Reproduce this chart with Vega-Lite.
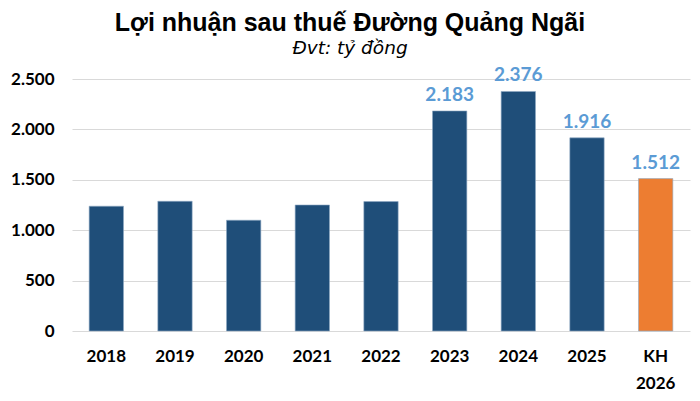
{
  "$schema": "https://vega.github.io/schema/vega-lite/v6.json",
  "width": 618,
  "height": 252,
  "autosize": {"type": "none"},
  "padding": {"left": 72, "top": 79, "right": 10, "bottom": 70},
  "background": "white",
  "config": {
    "locale": {"number": {"decimal": ",", "thousands": ".", "grouping": [3], "currency": ["", " ₫"]}},
    "view": {"stroke": null}
  },
  "title": {
    "text": "Lợi nhuận sau thuế Đường Quảng Ngãi",
    "subtitle": "Đvt: tỷ đồng",
    "anchor": "middle",
    "dx": -31,
    "font": "Liberation Sans",
    "fontSize": 25,
    "fontWeight": "bold",
    "color": "#000000",
    "subtitleFont": "DejaVu Sans",
    "subtitleFontSize": 18.5,
    "subtitleFontStyle": "italic",
    "subtitleColor": "#000000",
    "subtitlePadding": 3,
    "offset": 9
  },
  "data": {
    "values": [
      {"year": "2018", "value": 1238, "type": "actual", "show": false},
      {"year": "2019", "value": 1287, "type": "actual", "show": false},
      {"year": "2020", "value": 1099, "type": "actual", "show": false},
      {"year": "2021", "value": 1250, "type": "actual", "show": false},
      {"year": "2022", "value": 1284, "type": "actual", "show": false},
      {"year": "2023", "value": 2183, "type": "actual", "show": true},
      {"year": "2024", "value": 2376, "type": "actual", "show": true},
      {"year": "2025", "value": 1916, "type": "actual", "show": true},
      {"year": "KH 2026", "value": 1512, "type": "plan", "show": true}
    ]
  },
  "encoding": {
    "x": {
      "field": "year",
      "type": "nominal",
      "sort": null,
      "scale": {"paddingInner": 0.5, "paddingOuter": 0.25},
      "axis": {
        "title": null,
        "labelAngle": 0,
        "domain": false,
        "ticks": false,
        "labelFont": "Lato",
        "labelFontSize": 17,
        "labelFontWeight": "bold",
        "labelColor": "#000000",
        "labelPadding": 17,
        "labelLineHeight": 27,
        "labelExpr": "datum.value == 'KH 2026' ? ['KH', '2026'] : datum.value"
      }
    },
    "y": {
      "field": "value",
      "type": "quantitative",
      "scale": {"domain": [0, 2500]},
      "axis": {
        "title": null,
        "values": [0, 500, 1000, 1500, 2000, 2500],
        "format": ",d",
        "domain": false,
        "ticks": false,
        "gridColor": "#d9d9d9",
        "gridWidth": 1,
        "labelFont": "Lato",
        "labelFontSize": 17,
        "labelFontWeight": "bold",
        "labelColor": "#000000",
        "labelPadding": 18
      }
    }
  },
  "layer": [
    {
      "mark": {"type": "bar", "stroke": "#8ea9c4", "strokeWidth": 0.6},
      "encoding": {
        "color": {
          "field": "type",
          "type": "nominal",
          "scale": {"domain": ["actual", "plan"], "range": ["#1f4e79", "#ed7d31"]},
          "legend": null
        }
      }
    },
    {
      "transform": [{"filter": "datum.show"}],
      "mark": {"type": "text", "baseline": "bottom", "dy": -6, "font": "Lato", "fontSize": 19, "fontWeight": "bold", "color": "#5b9bd5"},
      "encoding": {
        "text": {"field": "value", "type": "quantitative", "format": ",d"}
      }
    }
  ]
}
